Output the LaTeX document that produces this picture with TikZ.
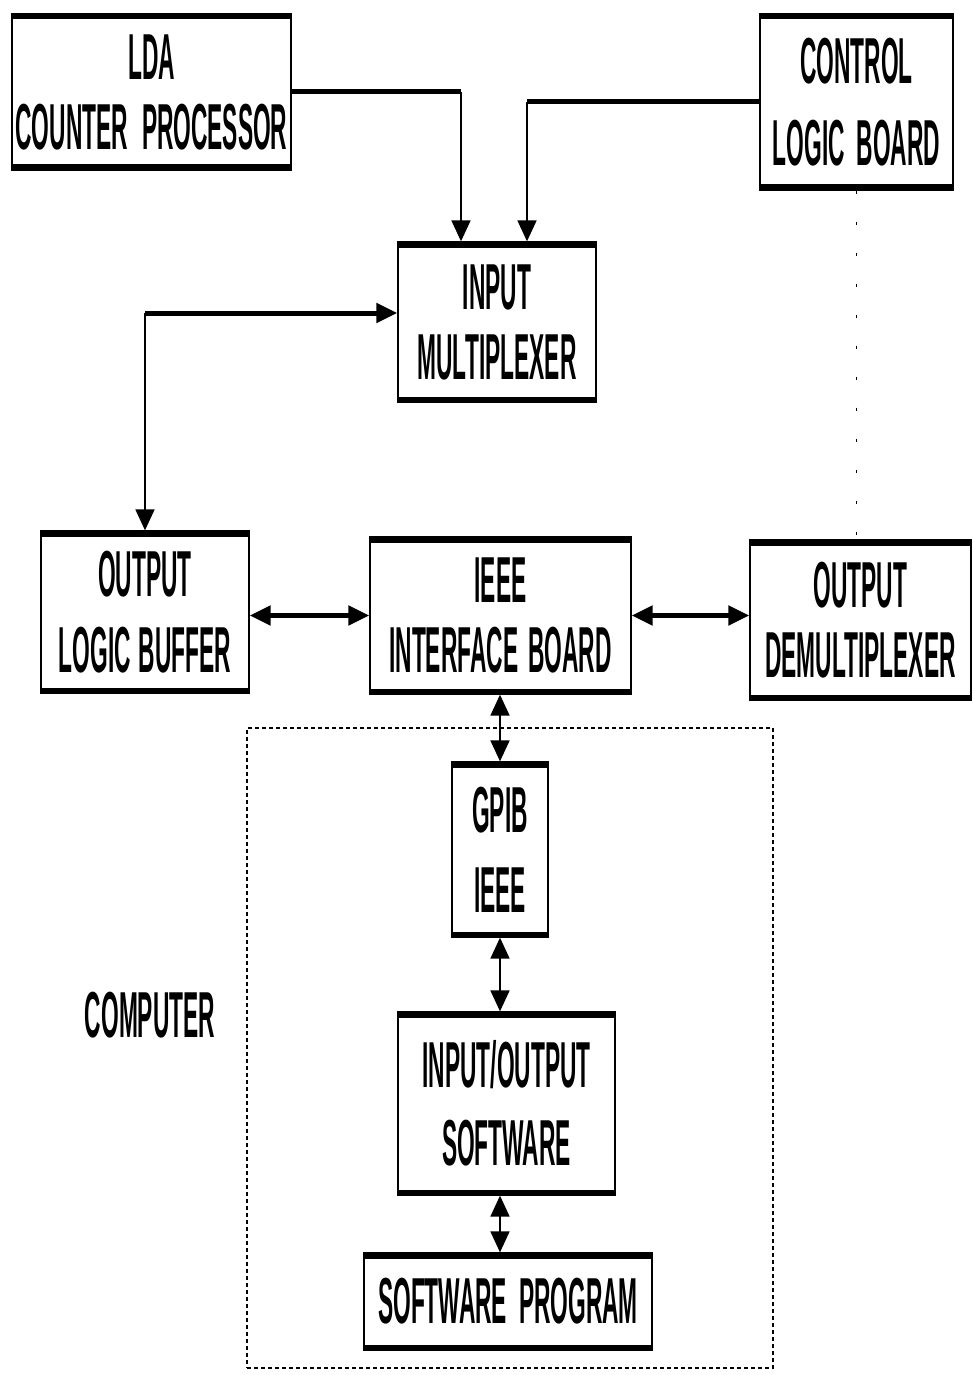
\documentclass[tikz,border=0pt]{standalone}
\usepackage{fontspec}
\setmainfont{Liberation Sans}[FakeStretch=0.35]
\usetikzlibrary{arrows.meta,positioning,calc}

\begin{document}
\begin{tikzpicture}
  [
    x=1pt, y=-1pt,
    >={Triangle[length=21pt,width=19pt]},
    Block/.style={rectangle, draw=black, line width=1.3pt, inner sep=0pt, align=center,
      font=\fontsize{65}{70}\selectfont\bfseries,
      path picture={\draw[line width=11pt]
        (path picture bounding box.north west) -- (path picture bounding box.north east)
        (path picture bounding box.south west) -- (path picture bounding box.south east);}},
    Frame/.style={rectangle, draw=black, line width=2.4pt, dash pattern=on 4pt off 3pt, inner sep=0pt},
    Label/.style={font=\fontsize{65}{70}\selectfont\bfseries},
    Bus/.style={draw, line width=5pt},
    Link/.style={draw, line width=1.8pt},
    Faint/.style={draw, line width=0.8pt, dash pattern=on 3pt off 28pt}
  ]
  \useasboundingbox (0,0) rectangle (973,1375);

  % Nodes
  \node[Block, minimum width=279, minimum height=156] (lda) at (151.5, 92) {LDA\\COUNTER\hspace{14pt}PROCESSOR};
  \node[Block, minimum width=193, minimum height=176] (ctrl) at (856.5, 102) {CONTROL\\[12pt]LOGIC\hspace{12pt}BOARD};
  \node[Block, minimum width=198, minimum height=160] (mux) at (497, 322) {INPUT\\MULTIPLEXER};
  \node[Block, minimum width=208, minimum height=162] (buf) at (145, 612) {OUTPUT\\[6pt]LOGIC\hspace{8pt}BUFFER};
  \node[Block, minimum width=261, minimum height=157] (ieee) at (500.5, 615.5) {IEEE\\INTERFACE\hspace{10pt}BOARD};
  \node[Block, minimum width=221, minimum height=160] (demux) at (860.5, 620) {OUTPUT\\DEMULTIPLEXER};
  \node[Frame, minimum width=526, minimum height=640] (pc) at (510, 1048) {};
  \node[Block, minimum width=96, minimum height=175] (gpib) at (500, 849.5) {GPIB\\[10pt]IEEE};
  \node[Block, minimum width=217, minimum height=183] (io) at (506.5, 1103.5) {INPUT/OUTPUT\\[8pt]SOFTWARE};
  \node[Block, minimum width=288, minimum height=97] (prog) at (508, 1301.5) {SOFTWARE\hspace{12pt}PROGRAM};
  \node[Label] (pclabel) at (150, 1015) {COMPUTER};

  \coordinate (ldain) at ([xshift=-36pt]mux.north);
  \coordinate (ctrlin) at ([xshift=30pt]mux.north);
  \coordinate (muxin) at ([yshift=9pt]mux.west);

  % Lines
  \path [Bus] (lda.east) -- (lda.east -| ldain);
  \path [Link, ->] (lda.east -| ldain) -- (ldain);
  \path [Bus] (ctrl.west) -- (ctrl.west -| ctrlin);
  \path [Link, ->] (ctrl.west -| ctrlin) -- (ctrlin);
  \path [Bus, ->] (buf.north |- muxin) -- (muxin);
  \path [Link, ->] (buf.north |- muxin) -- (buf.north);
  \path [Bus, <->] (buf.east |- ieee.west) -- (ieee.west);
  \path [Bus, <->] (ieee.east) -- (ieee.east -| demux.west);
  \path [Link, <->] (ieee.south -| gpib.north) -- (gpib.north);
  \path [Link, <->] (gpib.south) -- (gpib.south |- io.north);
  \path [Link, <->] (gpib.south |- io.south) -- (gpib.south |- prog.north);
  \path [Faint] (ctrl.south) -- (ctrl.south |- demux.north);

\end{tikzpicture}
\end{document}
